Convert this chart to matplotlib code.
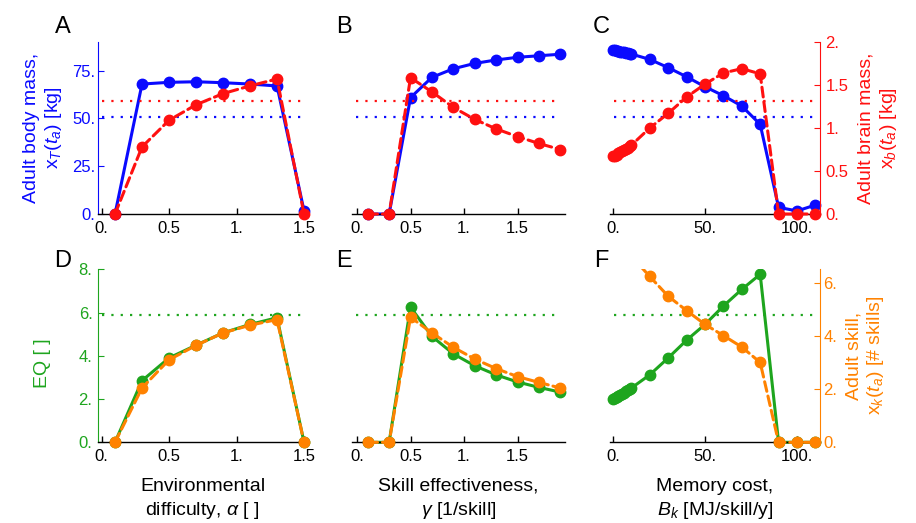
import numpy as np
import matplotlib
matplotlib.use("Agg")
from matplotlib import pyplot as plt
from matplotlib.transforms import Bbox, TransformedBbox

plt.rcParams["font.family"] = ["Liberation Sans", "DejaVu Sans"]
plt.rcParams["mathtext.fontset"] = "custom"
plt.rcParams["mathtext.rm"] = "Liberation Sans"
plt.rcParams["mathtext.it"] = "Liberation Sans:italic"

BLUE = "#0a0aff"
RED = "#ff1010"
GREEN = "#1ea51e"
ORANGE = "#ff8200"

# ---- data ----
alpha_x = [0.1, 0.3, 0.5, 0.7, 0.9, 1.1, 1.3, 1.5]
a_body = [0, 68.0, 68.9, 69.2, 68.7, 68.0, 67.0, 1.7]
a_brain = [0, 0.78, 1.09, 1.27, 1.40, 1.49, 1.57, 0]
d_eq = [0, 2.85, 3.90, 4.49, 5.06, 5.45, 5.76, 0]
d_skill = [0, 2.04, 3.10, 3.64, 4.11, 4.40, 4.61, 0]

gamma_x = [0.1, 0.3, 0.5, 0.7, 0.9, 1.1, 1.3, 1.5, 1.7, 1.9]
b_body = [0, 0, 60.9, 71.5, 76.0, 78.8, 80.6, 82.0, 82.8, 83.6]
b_brain = [0, 0, 1.585, 1.42, 1.24, 1.10, 0.99, 0.90, 0.82, 0.75]
e_eq = [0, 0, 6.25, 4.90, 4.09, 3.54, 3.12, 2.79, 2.54, 2.32]
e_skill = [0, 0, 4.70, 4.11, 3.57, 3.13, 2.77, 2.47, 2.25, 2.04]

bk_x = [0, 1, 2, 3, 4, 5, 6, 7, 8, 9, 10, 20, 30, 40, 50, 60, 70, 80, 90, 100, 110]
c_body = [85.8, 85.6, 85.4, 85.2, 85.0, 84.8, 84.6, 84.4, 84.2, 83.9, 83.7,
          80.9, 76.6, 71.8, 66.6, 61.9, 56.5, 46.9, 3.5, 1.6, 4.7]
c_brain = [0.67, 0.68, 0.69, 0.71, 0.72, 0.73, 0.75, 0.76, 0.77, 0.79, 0.80,
           1.00, 1.17, 1.36, 1.51, 1.64, 1.69, 1.63, 0, 0, 0]
f_eq = [2.00, 2.05, 2.10, 2.15, 2.20, 2.25, 2.30, 2.35, 2.40, 2.46, 2.51,
        3.12, 3.90, 4.72, 5.45, 6.30, 7.07, 7.77, 0, 0, 0]
f_skill = [8.6, 8.4, 8.2, 8.0, 7.8, 7.6, 7.5, 7.4, 7.2, 7.1, 7.0,
           6.23, 5.49, 4.95, 4.43, 4.01, 3.58, 3.00, 0, 0, 0]

ref_body, ref_brain, ref_eq = 51, 1.31, 5.9

xticks_ab = [0, 0.5, 1, 1.5]
xticklabels_ab = ["0.", "0.5", "1.", "1.5"]
xticks_c = [0, 50, 100]
xticklabels_c = ["0.", "50.", "100."]
body_ticks, body_labels = [0, 25, 50, 75], ["0.", "25.", "50.", "75."]
brain_ticks, brain_labels = [0, 0.5, 1, 1.5, 2], ["0.", "0.5", "1.", "1.5", "2."]
eq_ticks, eq_labels = [0, 2, 4, 6, 8], ["0.", "2.", "4.", "6.", "8."]
skill_ticks, skill_labels = [0, 2, 4, 6], ["0.", "2.", "4.", "6."]

TICK_FS = 12
LABEL_FS = 14

W, H = 916, 523
fig = plt.figure(figsize=(W / 100, H / 100), dpi=100)

cols = [(98, 307, (-0.026, 1.522)), (352, 565, (-0.047, 1.944)), (610, 820, (-1.6, 112.5))]
rows = [(42, 214), (269.3, 442.3)]


def make_axes(col, row):
    x0, x1, xl = cols[col]
    y0, y1 = rows[row]
    ax = fig.add_axes([x0 / W, 1 - y1 / H, (x1 - x0) / W, (y1 - y0) / H])
    ax.set_xlim(*xl)
    tw = ax.twinx()
    for a in (ax, tw):
        for s in a.spines.values():
            s.set_visible(False)
        a.patch.set_visible(False)
    ax.spines["bottom"].set_visible(True)
    ax.spines["bottom"].set_linewidth(1.0)
    ax.tick_params(axis="x", direction="in", length=4, width=1, labelsize=TICK_FS, pad=5)
    ax.set_xticks(xticks_c if col == 2 else xticks_ab)
    ax.set_xticklabels(xticklabels_c if col == 2 else xticklabels_ab)
    ax.yaxis.set_visible(col == 0)
    tw.yaxis.set_visible(col == 2)
    return ax, tw


def clip(line, ax):
    box = TransformedBbox(Bbox([[-0.06, -0.1], [1.06, 1.0]]), ax.transAxes)
    line.set_clip_box(box)


def series(ax, x, y, color, dashed=False):
    kw = dict(color=color, lw=2.2, marker="o", ms=7.5, solid_capstyle="round",
              dash_capstyle="round")
    if dashed:
        line, = ax.plot(x, y, linestyle="--", dashes=(3.2, 1.6), **kw)
    else:
        line, = ax.plot(x, y, **kw)
    clip(line, ax)


def refline(ax, y, color, xmin, xmax):
    ax.hlines(y, xmin, xmax, colors=color, linestyles=(0, (1, 3.2)), lw=1.6)


tops = [(alpha_x, a_body, a_brain), (gamma_x, b_body, b_brain), (bk_x, c_body, c_brain)]
bots = [(alpha_x, d_eq, d_skill), (gamma_x, e_eq, e_skill), (bk_x, f_eq, f_skill)]
letters = ["ABC", "DEF"]
letter_x = [63, 344, 601]
xlabels = ["Environmental\ndifficulty, $\\alpha$ [ ]",
           "Skill effectiveness,\n$\\gamma$ [1/skill]",
           "Memory cost,\n$B_k$ [MJ/skill/y]"]

for col in range(3):
    xl = cols[col][2]
    x_start = xl[0] + 0.02 * (xl[1] - xl[0])

    # top row: body mass (blue) and brain mass (red)
    ax, tw = make_axes(col, 0)
    x, body, brain = tops[col]
    ax.set_ylim(0, 90)
    tw.set_ylim(0, 2)
    refline(ax, ref_body, BLUE, x_start, x[-1])
    refline(tw, ref_brain, RED, x_start, x[-1])
    series(ax, x, body, BLUE)
    series(tw, x, brain, RED, dashed=True)
    if col == 0:
        ax.spines["left"].set_visible(True)
        ax.spines["left"].set_color(BLUE)
        ax.set_yticks(body_ticks)
        ax.set_yticklabels(body_labels)
        ax.tick_params(axis="y", direction="in", length=4, colors=BLUE, labelsize=TICK_FS, pad=2)
        ax.set_ylabel("Adult body mass,\n$\\mathrm{x}_T(t_a)$ [kg]", color=BLUE,
                      fontsize=LABEL_FS, linespacing=1.2)
        ax.yaxis.set_label_coords(-0.165, 0.5)
    if col == 2:
        tw.spines["right"].set_visible(True)
        tw.spines["right"].set_color(RED)
        tw.set_yticks(brain_ticks)
        tw.set_yticklabels(brain_labels)
        tw.tick_params(axis="y", direction="in", length=4, colors=RED, labelsize=TICK_FS, pad=4)
        tw.set_ylabel("Adult brain mass,\n$\\mathrm{x}_b(t_a)$ [kg]", color=RED,
                      fontsize=LABEL_FS, linespacing=1.2)
        tw.yaxis.set_label_coords(1.18, 0.5)

    # bottom row: EQ (green) and skill (orange)
    ax, tw = make_axes(col, 1)
    x, eq, skill = bots[col]
    ax.set_ylim(0, 8)
    tw.set_ylim(0, 6.5)
    refline(ax, ref_eq, GREEN, x_start, x[-1])
    series(ax, x, eq, GREEN)
    series(tw, x, skill, ORANGE, dashed=True)
    if col == 0:
        ax.spines["left"].set_visible(True)
        ax.spines["left"].set_color(GREEN)
        ax.set_yticks(eq_ticks)
        ax.set_yticklabels(eq_labels)
        ax.tick_params(axis="y", direction="in", length=4, colors=GREEN, labelsize=TICK_FS, pad=4)
        ax.set_ylabel("EQ [ ]", color=GREEN, fontsize=LABEL_FS)
        ax.yaxis.set_label_coords(-0.225, 0.46)
    if col == 2:
        tw.spines["right"].set_visible(True)
        tw.spines["right"].set_color(ORANGE)
        tw.set_yticks(skill_ticks)
        tw.set_yticklabels(skill_labels)
        tw.tick_params(axis="y", direction="in", length=4, colors=ORANGE, labelsize=TICK_FS, pad=2.5)
        tw.set_ylabel("Adult skill,\n$\\mathrm{x}_k(t_a)$ [# skills]", color=ORANGE,
                      fontsize=LABEL_FS, linespacing=1.2)
        tw.yaxis.set_label_coords(1.12, 0.5)
    ax.set_xlabel(xlabels[col], fontsize=LABEL_FS, linespacing=1.35)
    ax.xaxis.set_label_coords(0.5, -0.205)

    for r, ly in ((0, 27), (1, 261)):
        fig.text(letter_x[col] / W, 1 - ly / H, letters[r][col], fontsize=17,
                 ha="center", va="center")

fig.savefig("out.png", dpi=100)
